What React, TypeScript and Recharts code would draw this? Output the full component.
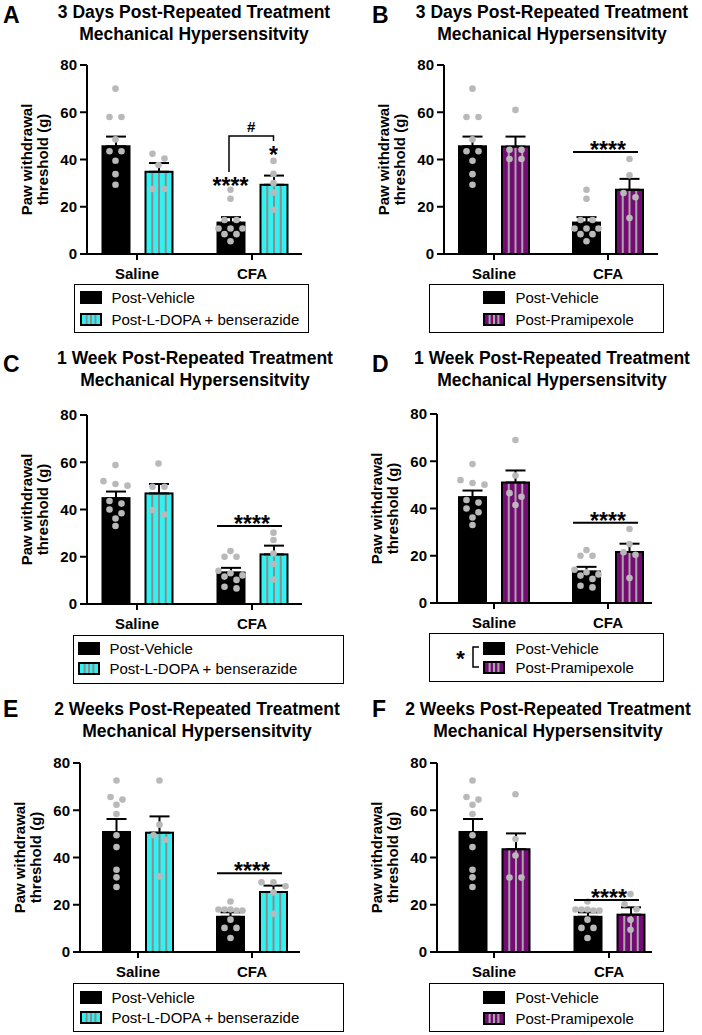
import React from 'react';
import {
  ComposedChart,
  Bar,
  ErrorBar,
  Scatter,
  XAxis,
  YAxis,
  ReferenceDot,
  Legend
} from 'recharts';

const FONT = '"Liberation Sans", Arial, Helvetica, sans-serif';

const groups = ['Saline', 'CFA'];
const yTicks = [0, 20, 40, 60, 80];

const VEHICLE = 'Post-Vehicle';
const LDOPA = 'Post-L-DOPA + benserazide';
const PRAMI = 'Post-Pramipexole';

const BLACK = '#000000';
const CYAN = '#31f2f2';
const PURPLE = '#760b76';
const DOT = '#b9b9b9';

const title3d = ['3 Days Post-Repeated Treatment', 'Mechanical Hypersensitvity'];
const title1w = ['1 Week Post-Repeated Treatment', 'Mechanical Hypersensitvity'];
const title2w = ['2 Weeks Post-Repeated Treatment', 'Mechanical Hypersensitvity'];

// 3 days
const veh3dMean = [45.6, 13.3];
const veh3dSem = [4.1, 2.3];
const veh3dSaline = [70, 58, 58, 48.5, 43.5, 43.5, 39.5, 33.8, 29.3];
const veh3dCfa = [27.2, 23.4, 14.4, 14.4, 10.8, 10.8, 10.8, 8.4, 8.4, 5.4];
const ldopa3dMean = [34.8, 29.3];
const ldopa3dSem = [3.7, 3.9];
const ldopa3dSaline = [42.4, 40.4, 37.7, 27.5, 27.5];
const ldopa3dCfa = [39.4, 33.9, 30, 26, 18.7];
const prami3dMean = [45.5, 27.2];
const prami3dSem = [4.2, 4.6];
const prami3dSaline = [61, 44.1, 44.1, 40.2, 40.2];
const prami3dCfa = [40.2, 33.3, 25.8, 24, 15.2];

// 1 week
const veh1wMean = [44.8, 13.3];
const veh1wSem = [2.8, 2.0];
const veh1wSaline = [58.8, 52, 50.8, 50.1, 43.6, 42.5, 40, 38.4, 36.2, 33];
const veh1wCfa = [22.4, 20, 20, 14.1, 13, 12.1, 11.6, 10.2, 7.3, 6.6];
const ldopa1wMean = [46.8, 21];
const ldopa1wSem = [4, 3.7];
const ldopa1wSaline = [59.5, 49.6, 49.6, 39.8, 37.9];
const ldopa1wCfa = [30.2, 27.1, 21.4, 16.9, 10.4];
const prami1wMean = [51, 21.6];
const prami1wSem = [5.1, 3.5];
const prami1wSaline = [69, 54, 46.5, 45, 41.5];
const prami1wCfa = [31.3, 25, 21.5, 20.4, 10.6];

// 2 weeks
const veh2wMean = [50.8, 14.9];
const veh2wSem = [5.5, 1.9];
const veh2wSaline = [72.6, 65.6, 64.5, 62.3, 58.4, 49.4, 44.4, 34.8, 31.6, 27.5];
const veh2wCfa = [21.4, 18, 18, 18, 17.5, 17.5, 13.7, 10.2, 10.2, 5.9];
const ldopa2wMean = [50.5, 25.4];
const ldopa2wSem = [6.9, 2.7];
const ldopa2wSaline = [72.6, 53.9, 49.4, 47.5, 32];
const ldopa2wCfa = [29.5, 29.5, 27.8, 25.2, 16.2];
const prami2wMean = [43.5, 15.8];
const prami2wSem = [6.7, 3.1];
const prami2wSaline = [66.8, 47.8, 40.8, 31.5, 31.5];
const prami2wCfa = [24.5, 20.2, 18.1, 13.6, 9.4];

const PANEL_W = 351;
const PANEL_H = 345;
const BAR_SIZE = 27;
const BAR_GAP = 16;
const DOT_R = 3.3;
const ROW_TOL = 5;

type Series = { mean: number[]; sem: number[]; pts: number[][] };
type LegendCfg = {
  left: number; right: number; top: number; bottom: number;
  rows: number[]; swatchX: number; textX: number; bracket?: boolean;
};
type Sig =
  | { kind: 'stars'; series: 0 | 1; y: number; text: string }
  | { kind: 'line'; y: number; text: string }
  | { kind: 'bracket'; top: number; leftEnd: number; rightEnd: number; text: string };

type PanelCfg = {
  letter: string; x0: number; y0: number; title: string[];
  trtName: string; trtColor: string; veh: Series; trt: Series;
  axisX: number; axisEnd: number; c1: number; c2: number; yTop: number; yBottom: number;
  titleX: number; titleY: number; letterX: number; letterY: number;
  legend: LegendCfg; sigs: Sig[];
};

const vehicle3d: Series = { mean: veh3dMean, sem: veh3dSem, pts: [veh3dSaline, veh3dCfa] };
const vehicle1w: Series = { mean: veh1wMean, sem: veh1wSem, pts: [veh1wSaline, veh1wCfa] };
const vehicle2w: Series = { mean: veh2wMean, sem: veh2wSem, pts: [veh2wSaline, veh2wCfa] };

const panels: PanelCfg[] = [
  {
    letter: 'A', x0: 0, y0: 0, title: title3d, trtName: LDOPA, trtColor: CYAN,
    veh: vehicle3d,
    trt: { mean: ldopa3dMean, sem: ldopa3dSem, pts: [ldopa3dSaline, ldopa3dCfa] },
    axisX: 87, axisEnd: 302, c1: 137, c2: 252, yTop: 65, yBottom: 254,
    titleX: 194, titleY: 12, letterX: 3, letterY: 15,
    legend: { left: 74, right: 309, top: 284, bottom: 333, rows: [298, 320], swatchX: 80, textX: 112 },
    sigs: [
      { kind: 'stars', series: 0, y: 29.6, text: '****' },
      { kind: 'stars', series: 1, y: 42.7, text: '*' },
      { kind: 'bracket', top: 50, leftEnd: 34.7, rightEnd: 47.8, text: '#' }
    ]
  },
  {
    letter: 'B', x0: 351, y0: 0, title: title3d, trtName: PRAMI, trtColor: PURPLE,
    veh: vehicle3d,
    trt: { mean: prami3dMean, sem: prami3dSem, pts: [prami3dSaline, prami3dCfa] },
    axisX: 444, axisEnd: 658, c1: 494, c2: 608, yTop: 65, yBottom: 254,
    titleX: 552, titleY: 12, letterX: 372, letterY: 15,
    legend: { left: 429, right: 664, top: 284, bottom: 333, rows: [298, 320], swatchX: 483, textX: 516 },
    sigs: [{ kind: 'line', y: 43.2, text: '****' }]
  },
  {
    letter: 'C', x0: 0, y0: 345, title: title1w, trtName: LDOPA, trtColor: CYAN,
    veh: vehicle1w,
    trt: { mean: ldopa1wMean, sem: ldopa1wSem, pts: [ldopa1wSaline, ldopa1wCfa] },
    axisX: 87, axisEnd: 302, c1: 137, c2: 252, yTop: 415, yBottom: 604,
    titleX: 195, titleY: 358, letterX: 3, letterY: 364,
    legend: { left: 73, right: 344, top: 635, bottom: 684, rows: [649, 669], swatchX: 78, textX: 110 },
    sigs: [{ kind: 'line', y: 33.0, text: '****' }]
  },
  {
    letter: 'D', x0: 351, y0: 345, title: title1w, trtName: PRAMI, trtColor: PURPLE,
    veh: vehicle1w,
    trt: { mean: prami1wMean, sem: prami1wSem, pts: [prami1wSaline, prami1wCfa] },
    axisX: 437, axisEnd: 652, c1: 494, c2: 608, yTop: 414, yBottom: 603,
    titleX: 552, titleY: 358, letterX: 372, letterY: 364,
    legend: { left: 429, right: 664, top: 633, bottom: 682, rows: [649, 668], swatchX: 483, textX: 516, bracket: true },
    sigs: [{ kind: 'line', y: 34.0, text: '****' }]
  },
  {
    letter: 'E', x0: 0, y0: 690, title: title2w, trtName: LDOPA, trtColor: CYAN,
    veh: vehicle2w,
    trt: { mean: ldopa2wMean, sem: ldopa2wSem, pts: [ldopa2wSaline, ldopa2wCfa] },
    axisX: 80, axisEnd: 300, c1: 138, c2: 252, yTop: 763, yBottom: 952,
    titleX: 197, titleY: 709, letterX: 3, letterY: 709,
    legend: { left: 73, right: 344, top: 983, bottom: 1032, rows: [998, 1018], swatchX: 80, textX: 112 },
    sigs: [{ kind: 'line', y: 33.3, text: '****' }]
  },
  {
    letter: 'F', x0: 351, y0: 690, title: title2w, trtName: PRAMI, trtColor: PURPLE,
    veh: vehicle2w,
    trt: { mean: prami2wMean, sem: prami2wSem, pts: [prami2wSaline, prami2wCfa] },
    axisX: 437, axisEnd: 652, c1: 494, c2: 609, yTop: 763, yBottom: 952,
    titleX: 548, titleY: 709, letterX: 372, letterY: 709,
    legend: { left: 429, right: 664, top: 983, bottom: 1032, rows: [998, 1019], swatchX: 483, textX: 516 },
    sigs: [{ kind: 'line', y: 22.0, text: '****' }]
  }
];

const stripeColor = (fill: string) => (fill === PURPLE ? '#a8a8a8' : '#8c8c8c');

// simple beeswarm: values close in pixel height share a row and are spread sideways
function swarm(values: number[], pxPerUnit: number) {
  const sorted = [...values].sort((a, b) => b - a);
  const rows: number[][] = [];
  let cur: number[] = [];
  let anchor = 0;
  sorted.forEach((v) => {
    if (cur.length && (anchor - v) * pxPerUnit < ROW_TOL) {
      cur.push(v);
    } else {
      if (cur.length) rows.push(cur);
      cur = [v];
      anchor = v;
    }
  });
  if (cur.length) rows.push(cur);
  const out: { v: number; dx: number }[] = [];
  rows.forEach((r) => {
    const step = r.length > 1 ? Math.min(12, 24 / (r.length - 1)) : 0;
    r.forEach((v, k) => out.push({ v, dx: (k - (r.length - 1) / 2) * step }));
  });
  return out;
}

const BarShape = (props: any) => {
  const { x, y, width, height, fill } = props;
  if (!height || height <= 0) return null;
  const striped = fill !== BLACK;
  return (
    <g>
      <rect x={x} y={y} width={width} height={height} fill={fill} stroke="#000" strokeWidth={2} />
      {striped &&
        [0.25, 0.5, 0.75].map((f) => (
          <line
            key={f}
            x1={x + width * f}
            x2={x + width * f}
            y1={y + 1}
            y2={y + height - 1}
            stroke={stripeColor(fill)}
            strokeWidth={2}
          />
        ))}
    </g>
  );
};

const Swatch = ({ color }: { color: string }) => (
  <svg width={22} height={13} style={{ display: 'block', flex: 'none' }}>
    <rect x={1} y={1} width={20} height={11} fill={color} stroke="#000" strokeWidth={2} />
    {color !== BLACK &&
      [0.3, 0.5, 0.7].map((f) => (
        <line key={f} x1={22 * f} x2={22 * f} y1={2} y2={11} stroke={stripeColor(color)} strokeWidth={2} />
      ))}
  </svg>
);

const LegendBox = ({ items, cfg }: { items: { name: string; color: string }[]; cfg: LegendCfg }) => {
  const b = 1.5;
  return (
    <div
      style={{
        position: 'relative',
        width: cfg.right - cfg.left,
        height: cfg.bottom - cfg.top,
        border: `${b}px solid #000`,
        boxSizing: 'border-box',
        background: '#fff',
        fontFamily: FONT,
        fontSize: 15,
        color: '#000'
      }}
    >
      {items.map((e, i) => (
        <div
          key={e.name}
          style={{
            position: 'absolute',
            left: cfg.swatchX - cfg.left - b,
            top: cfg.rows[i] - cfg.top - 10 - b,
            height: 20,
            display: 'flex',
            alignItems: 'center',
            whiteSpace: 'nowrap'
          }}
        >
          <Swatch color={e.color} />
          <span style={{ marginLeft: cfg.textX - cfg.swatchX - 22 }}>{e.name}</span>
        </div>
      ))}
      {cfg.bracket && (
        <svg
          width={40}
          height={cfg.bottom - cfg.top}
          style={{ position: 'absolute', left: 22 - b, top: -b }}
        >
          <text x={9.5} y={33} textAnchor="middle" fontSize={22} fontWeight="bold" fontFamily={FONT}>
            *
          </text>
          <path d="M 28 14 L 22 14 L 22 34 L 28 34" fill="none" stroke="#000" strokeWidth={1.5} />
        </svg>
      )}
    </div>
  );
};

const YLabel = (props: any) => {
  const vb = props.viewBox || {};
  const ax = vb.x + vb.width;
  const cy = vb.y + vb.height / 2;
  const lines = ['Paw withdrawal', 'threshold (g)'];
  const offs = [60, 44];
  return (
    <g>
      {lines.map((t, i) => (
        <text
          key={t}
          x={ax - offs[i]}
          y={cy}
          dy="0.35em"
          textAnchor="middle"
          transform={`rotate(-90 ${ax - offs[i]} ${cy})`}
          fontSize={15}
          fontWeight="bold"
          fontFamily={FONT}
          fill="#000"
        >
          {t}
        </text>
      ))}
    </g>
  );
};

function Panel({ p }: { p: PanelCfg }) {
  const left = p.axisX - p.x0;
  const right = p.axisEnd - p.x0;
  const top = p.yTop - p.y0;
  const bottom = p.yBottom - p.y0;
  const band = p.c2 - p.c1;
  const padL = p.c1 - band / 2 - p.axisX;
  const padR = p.axisEnd - (p.c2 + band / 2);
  const xAxisH = 30;
  const pxPerUnit = (p.yBottom - p.yTop) / 80;
  const shift = (BAR_SIZE + BAR_GAP) / 2;

  const rows = groups.map((g, i) => ({
    cat: g,
    veh: p.veh.mean[i],
    vehErr: [0, p.veh.sem[i]],
    trt: p.trt.mean[i],
    trtErr: [0, p.trt.sem[i]]
  }));

  const points: { cat: string; v: number; dx: number }[] = [];
  groups.forEach((g, i) => {
    [p.veh, p.trt].forEach((s, si) => {
      swarm(s.pts[i], pxPerUnit).forEach((d) => {
        points.push({ cat: g, v: d.v, dx: (si === 0 ? -shift : shift) + d.dx });
      });
    });
  });

  const legendItems = [
    { name: VEHICLE, color: BLACK },
    { name: p.trtName, color: p.trtColor }
  ];

  const sigShape = (sig: Sig) => (d: any) => {
    const { cx, cy } = d;
    if (sig.kind === 'stars') {
      const x = cx + (sig.series === 0 ? -shift : shift);
      return (
        <text x={x} y={cy + 10} textAnchor="middle" fontSize={23} fontWeight="bold" fontFamily={FONT} fill="#000">
          {sig.text}
        </text>
      );
    }
    if (sig.kind === 'line') {
      return (
        <g>
          <line x1={cx - 35} x2={cx + 30} y1={cy} y2={cy} stroke="#000" strokeWidth={2} />
          <text x={cx} y={cy + 6} textAnchor="middle" fontSize={23} fontWeight="bold" fontFamily={FONT} fill="#000">
            {sig.text}
          </text>
        </g>
      );
    }
    const xl = cx - shift - 1.5;
    const xr = cx + shift;
    const yl = cy + (sig.top - sig.leftEnd) * pxPerUnit;
    const yr = cy + (sig.top - sig.rightEnd) * pxPerUnit;
    return (
      <g>
        <path d={`M ${xl} ${yl} L ${xl} ${cy} L ${xr} ${cy} L ${xr} ${yr}`} fill="none" stroke="#000" strokeWidth={1.5} />
        <text x={(xl + xr) / 2} y={cy - 4} textAnchor="middle" fontSize={15} fontWeight="bold" fontFamily={FONT} fill="#000">
          {sig.text}
        </text>
      </g>
    );
  };

  const tickStyle = { fill: '#000', fontSize: 15, fontWeight: 'bold', fontFamily: FONT } as any;

  return (
    <div style={{ position: 'absolute', left: p.x0, top: p.y0, width: PANEL_W, height: PANEL_H }}>
      <div
        style={{
          position: 'absolute',
          left: p.letterX - p.x0,
          top: p.letterY - p.y0 - 12,
          fontSize: 23,
          lineHeight: '24px',
          fontWeight: 'bold',
          fontFamily: FONT
        }}
      >
        {p.letter}
      </div>
      <div
        style={{
          position: 'absolute',
          left: p.titleX - p.x0 - 170,
          width: 340,
          top: p.titleY - p.y0 - 11,
          textAlign: 'center',
          fontSize: 17.5,
          lineHeight: '22px',
          fontWeight: 'bold',
          fontFamily: FONT,
          whiteSpace: 'nowrap'
        }}
      >
        {p.title[0]}
        <br />
        {p.title[1]}
      </div>
      <ComposedChart
        width={PANEL_W}
        height={PANEL_H}
        data={rows}
        margin={{ top, left: 0, right: PANEL_W - right, bottom: PANEL_H - bottom - xAxisH }}
        barSize={BAR_SIZE}
        barGap={BAR_GAP}
      >
        <XAxis
          dataKey="cat"
          type="category"
          allowDuplicatedCategory={false}
          padding={{ left: padL, right: padR }}
          height={xAxisH}
          interval={0}
          tickSize={6}
          tickMargin={8}
          tick={tickStyle}
          axisLine={{ stroke: '#000', strokeWidth: 2 }}
          tickLine={{ stroke: '#000', strokeWidth: 2 }}
        />
        <YAxis
          width={left}
          domain={[0, 80]}
          ticks={yTicks}
          interval={0}
          tickSize={7}
          tickMargin={3}
          tick={tickStyle}
          axisLine={{ stroke: '#000', strokeWidth: 2 }}
          tickLine={{ stroke: '#000', strokeWidth: 2 }}
          label={{ content: YLabel } as any}
        />
        <Bar dataKey="veh" name={VEHICLE} fill={BLACK} shape={BarShape} isAnimationActive={false}>
          <ErrorBar dataKey="vehErr" direction="y" width={10} stroke="#000" strokeWidth={2} isAnimationActive={false} />
        </Bar>
        <Bar dataKey="trt" name={p.trtName} fill={p.trtColor} shape={BarShape} isAnimationActive={false}>
          <ErrorBar dataKey="trtErr" direction="y" width={10} stroke="#000" strokeWidth={2} isAnimationActive={false} />
        </Bar>
        <Scatter
          data={points}
          dataKey="v"
          legendType="none"
          isAnimationActive={false}
          shape={(s: any) => <circle cx={s.cx + s.payload.dx} cy={s.cy} r={DOT_R} fill={DOT} />}
        />
        {p.sigs.map((sig, i) => (
          <ReferenceDot
            key={i}
            x="CFA"
            y={sig.kind === 'bracket' ? sig.top : sig.y}
            r={0}
            ifOverflow="visible"
            shape={sigShape(sig)}
          />
        ))}
        <Legend
          layout="vertical"
          align="center"
          verticalAlign="middle"
          wrapperStyle={{
            left: p.legend.left - p.x0,
            top: p.legend.top - p.y0,
            width: p.legend.right - p.legend.left,
            height: p.legend.bottom - p.legend.top
          }}
          content={() => <LegendBox items={legendItems} cfg={p.legend} />}
        />
      </ComposedChart>
    </div>
  );
}

export default function App() {
  return (
    <div
      style={{
        position: 'absolute',
        left: 0,
        top: 0,
        width: 702,
        height: 1035,
        background: '#fff',
        overflow: 'hidden'
      }}
    >
      {panels.map((p) => (
        <Panel key={p.letter} p={p} />
      ))}
    </div>
  );
}
